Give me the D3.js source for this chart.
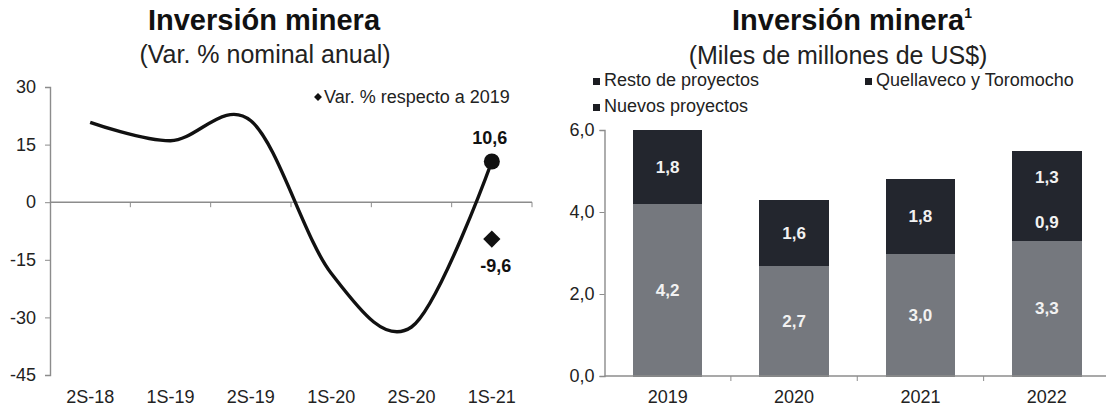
<!DOCTYPE html>
<html>
<head>
<meta charset="utf-8">
<script src="https://cdn.jsdelivr.net/npm/d3@7"></script>
<style>
	body { margin: 0; background: #fff; }
	svg { display: block; font-family: "Liberation Sans", Arial, sans-serif; }
</style>
</head>
<body>
<div id="svg-container"></div>
<script>


// DATA - LEFT CHART
const periods = ['2S-18', '1S-19', '2S-19', '1S-20', '2S-20', '1S-21'];
const varNominal = [20.8, 16.0, 21.2, -18.5, -32.5, 10.6];
const varVs2019 = -9.6;
const leftTicks = [30, 15, 0, -15, -30, -45];

// DATA - RIGHT CHART
const years = ['2019', '2020', '2021', '2022'];
const resto = [4.2, 2.7, 3.0, 3.3];
const quellaveco = [1.8, 1.6, 1.8, 0.9];
const nuevos = [0, 0, 0, 1.3];
const rightTicks = [0, 2, 4, 6];
const seriesNames = ['Resto de proyectos', 'Quellaveco y Toromocho', 'Nuevos proyectos'];

// decimal comma, plain hyphen for negatives
const fmt = v => d3.format('.1f')(v).replace('.', ',').replace('\u2212', '-');
const axisColor = '#8c8c8c';


// LEFT CHART
function drawLeft(svg) {
	const g = svg.append('g');

	// titles
	g.append('text').attr('x', 264).attr('y', 30).attr('text-anchor', 'middle')
		.attr('font-size', 29).attr('font-weight', 'bold').attr('fill', '#111')
		.text('Inversión minera');
	g.append('text').attr('x', 265).attr('y', 63).attr('text-anchor', 'middle')
		.attr('font-size', 25).attr('fill', '#222')
		.text('(Var. % nominal anual)');

	// scales
	const x = d3.scaleBand().domain(periods).range([50, 532]);
	const y = d3.scaleLinear().domain([-45, 30]).range([375, 87]);

	// y axis
	const yAxis = g.append('g').attr('transform', 'translate(50,0)')
		.call(d3.axisLeft(y).tickValues(leftTicks).tickSize(5).tickFormat(d => String(d)));
	yAxis.select('.domain').attr('stroke', axisColor).attr('stroke-width', 1.4);
	yAxis.selectAll('.tick line').attr('stroke', axisColor);
	yAxis.selectAll('.tick text').attr('x', -14).attr('font-size', 18).attr('fill', '#222');

	// x axis line at zero + ticks at category edges
	g.append('line').attr('x1', 50).attr('x2', 532).attr('y1', y(0)).attr('y2', y(0))
		.attr('stroke', axisColor).attr('stroke-width', 1.4);
	g.selectAll('.xtick').data(periods.slice(1).concat(['end']))
		.enter().append('line')
		.attr('x1', d => d === 'end' ? 532 : x(d)).attr('x2', d => d === 'end' ? 532 : x(d))
		.attr('y1', y(0)).attr('y2', y(0) + 5)
		.attr('stroke', axisColor);

	// x labels at the bottom
	g.selectAll('.xlab').data(periods).enter().append('text')
		.attr('x', d => x(d) + x.bandwidth() / 2).attr('y', 403)
		.attr('text-anchor', 'middle').attr('font-size', 18).attr('fill', '#222')
		.text(d => d);

	// smoothed line
	const pts = periods.map((p, i) => [x(p) + x.bandwidth() / 2, y(varNominal[i])]);
	g.append('path')
		.attr('d', d3.line().curve(d3.curveCardinal.tension(0))(pts))
		.attr('fill', 'none').attr('stroke', '#111').attr('stroke-width', 3.4);

	// last point marker
	const last = periods.length - 1;
	const cx = x(periods[last]) + x.bandwidth() / 2;
	g.append('circle').attr('cx', cx).attr('cy', y(varNominal[last])).attr('r', 8).attr('fill', '#111');
	g.append('text').attr('x', cx - 2).attr('y', y(varNominal[last]) - 17)
		.attr('text-anchor', 'middle').attr('font-size', 18).attr('font-weight', 'bold').attr('fill', '#111')
		.text(fmt(varNominal[last]));

	// diamond: var. respecto a 2019
	const diamond = d3.symbol().type(d3.symbolDiamond2).size(190);
	g.append('path').attr('d', diamond())
		.attr('transform', `translate(${cx},${y(varVs2019)})`).attr('fill', '#111');
	g.append('text').attr('x', cx + 4).attr('y', y(varVs2019) + 33)
		.attr('text-anchor', 'middle').attr('font-size', 18).attr('font-weight', 'bold').attr('fill', '#111')
		.text(fmt(varVs2019));

	// legend
	g.append('path').attr('d', d3.symbol().type(d3.symbolDiamond2).size(40)())
		.attr('transform', 'translate(318,97)').attr('fill', '#111');
	g.append('text').attr('x', 324).attr('y', 103).attr('font-size', 18).attr('fill', '#222')
		.text('Var. % respecto a 2019');
}


// RIGHT CHART
function drawRight(svg) {
	const g = svg.append('g');

	// titles
	const t = g.append('text').attr('x', 852).attr('y', 30).attr('text-anchor', 'middle')
		.attr('font-size', 29).attr('font-weight', 'bold').attr('fill', '#111');
	t.append('tspan').text('Inversión minera');
	t.append('tspan').attr('font-size', 14).attr('dy', -12).text('1');
	g.append('text').attr('x', 838).attr('y', 64).attr('text-anchor', 'middle')
		.attr('font-size', 25).attr('fill', '#222')
		.text('(Miles de millones de US$)');

	// legend
	const legendPos = [[593, 86], [865, 86], [593, 112]];
	seriesNames.forEach((name, i) => {
		g.append('rect').attr('x', legendPos[i][0]).attr('y', legendPos[i][1] - 8)
			.attr('width', 7).attr('height', 7).attr('fill', '#1c1d22');
		g.append('text').attr('x', legendPos[i][0] + 11).attr('y', legendPos[i][1])
			.attr('font-size', 18).attr('fill', '#222').text(name);
	});

	// scales
	const x = d3.scaleBand().domain(years).range([604.5, 1110]).paddingInner(0.45).paddingOuter(0.225);
	const y = d3.scaleLinear().domain([0, 6]).range([376, 130]);

	// y axis
	const yAxis = g.append('g').attr('transform', 'translate(604.5,0)')
		.call(d3.axisLeft(y).tickValues(rightTicks).tickSize(5).tickFormat(fmt));
	yAxis.select('.domain').attr('stroke', axisColor).attr('stroke-width', 1.4);
	yAxis.selectAll('.tick line').attr('stroke', axisColor);
	yAxis.selectAll('.tick text').attr('x', -10).attr('font-size', 18).attr('fill', '#222');

	// stacked bars
	const table = years.map((yr, i) => ({ year: yr, resto: resto[i], quellaveco: quellaveco[i], nuevos: nuevos[i] }));
	const keys = ['resto', 'quellaveco', 'nuevos'];
	const colors = { resto: '#75787e', quellaveco: '#23262e', nuevos: '#23262e' };
	const stacked = d3.stack().keys(keys)(table);

	// rects first (crisp, so stacked dark parts show no seam), labels afterwards
	stacked.forEach(layer => {
		g.selectAll('.bar-' + layer.key).data(layer.filter(d => d[1] > d[0]))
			.enter().append('rect')
			.attr('shape-rendering', 'crispEdges')
			.attr('x', d => x(d.data.year)).attr('width', x.bandwidth())
			.attr('y', d => y(d[1])).attr('height', d => y(d[0]) - y(d[1]) + 0.5)
			.attr('fill', colors[layer.key]);
	});
	stacked.forEach(layer => {
		g.selectAll('.lab-' + layer.key).data(layer.filter(d => d[1] > d[0]))
			.enter().append('text')
			.attr('x', d => x(d.data.year) + x.bandwidth() / 2)
			.attr('y', d => (y(d[0]) + y(d[1])) / 2 + 6)
			.attr('text-anchor', 'middle').attr('font-size', 17).attr('font-weight', 'bold')
			.attr('fill', '#f2f2f2')
			.text(d => fmt(d[1] - d[0]));
	});

	// x axis
	g.append('line').attr('x1', 604.5).attr('x2', 1106).attr('y1', y(0)).attr('y2', y(0))
		.attr('stroke', axisColor).attr('stroke-width', 1.4);
	const step = x.step();
	g.selectAll('.xtick').data(years.slice(1))
		.enter().append('line')
		.attr('x1', d => x(d) - step * x.paddingInner() / 2).attr('x2', d => x(d) - step * x.paddingInner() / 2)
		.attr('y1', y(0)).attr('y2', y(0) + 5).attr('stroke', axisColor);
	g.selectAll('.xlab').data(years).enter().append('text')
		.attr('x', d => x(d) + x.bandwidth() / 2).attr('y', 403)
		.attr('text-anchor', 'middle').attr('font-size', 18).attr('fill', '#222')
		.text(d => d);
}


document.addEventListener('DOMContentLoaded', () => {
	const svg = d3.select('#svg-container').append('svg')
		.attr('width', 1106).attr('height', 410);
	drawLeft(svg);
	drawRight(svg);
});
</script>
</body>
</html>
